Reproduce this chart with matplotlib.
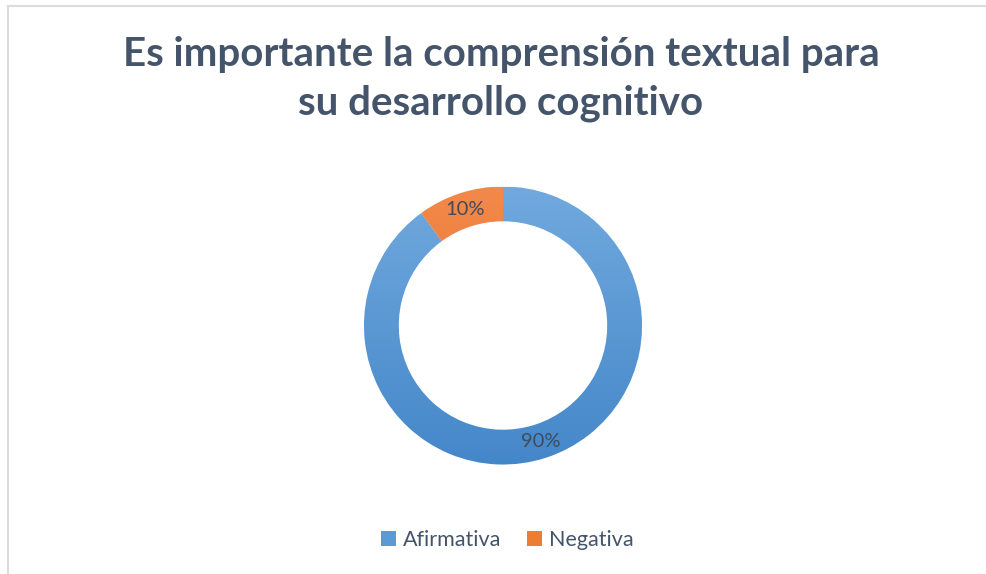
import numpy as np
import matplotlib
matplotlib.use("Agg")
import matplotlib.pyplot as plt
from matplotlib.patches import Patch
from matplotlib.lines import Line2D
from matplotlib.colors import LinearSegmentedColormap

# ---- data ----
title = "Es importante la comprensión textual para\nsu desarrollo cognitivo"
categories = ["Afirmativa", "Negativa"]
values = [90, 10]

# ---- style ----
FONT = ["Lato", "DejaVu Sans"]
TEXT_COLOR = "#44546A"
LABEL_COLOR = "#404B5C"
base_colors = ["#5B9BD5", "#ED7D31"]
grad_colors = [("#71A9DE", "#4487C9"), ("#F2894C", "#E36C1B")]

W, H = 986, 574
fig = plt.figure(figsize=(W / 100, H / 100), dpi=100)
fig.patch.set_facecolor("white")

# chart border (partially outside the image on right/bottom)
bx, by = 7.5 / W, 1 - 5.5 / H
fig.add_artist(Line2D([bx, bx], [0, by], transform=fig.transFigure, color="#DADCDF", lw=1.5))
fig.add_artist(Line2D([bx, 1], [by, by], transform=fig.transFigure, color="#DADCDF", lw=1.5))

# title
fig.text(501 / W, 1 - 36 / H, title, ha="center", va="top", fontsize=29,
         fontweight="bold", color=TEXT_COLOR, family=FONT, linespacing=1.4)

# doughnut axes: center (503, 325.5) px, radius 139 px
cx, cy, r = 503, 325.5, 139
ax = fig.add_axes([(cx - r) / W, (H - cy - r) / H, 2 * r / W, 2 * r / H])
ax.set_xlim(-1, 1)
ax.set_ylim(-1, 1)
ax.set_aspect("equal")
ax.axis("off")

wedges, texts, autotexts = ax.pie(
    values, colors=base_colors, startangle=90, counterclock=False, radius=1,
    wedgeprops=dict(width=0.25, edgecolor="white", linewidth=0.6),
    autopct="%1.0f%%", pctdistance=0.875,
    textprops=dict(color=LABEL_COLOR, fontsize=14.5, family=FONT))

# vertical gradient fill clipped to each wedge
grad = np.linspace(0, 1, 256).reshape(-1, 1)
for w, (c_top, c_bot) in zip(wedges, grad_colors):
    cmap = LinearSegmentedColormap.from_list("g", [c_top, c_bot])
    im = ax.imshow(grad, extent=[-1, 1, -1, 1], cmap=cmap, origin="upper",
                   aspect="auto", zorder=w.get_zorder() + 0.1, interpolation="bilinear")
    im.set_clip_path(w)
for t in autotexts:
    t.set_zorder(10)
ax.set_xlim(-1, 1)
ax.set_ylim(-1, 1)

# legend
handles = [Patch(facecolor=c, edgecolor="none") for c in base_colors]
leg = fig.legend(handles, categories, loc="center", bbox_to_anchor=(507 / W, 1 - 540 / H),
                 ncol=2, frameon=False, handlelength=0.72, handleheight=0.72,
                 handletextpad=0.3, columnspacing=1.2, prop=dict(family=FONT, size=15.5))
for t in leg.get_texts():
    t.set_color(TEXT_COLOR)

fig.savefig("out.png", dpi=100, facecolor="white")
